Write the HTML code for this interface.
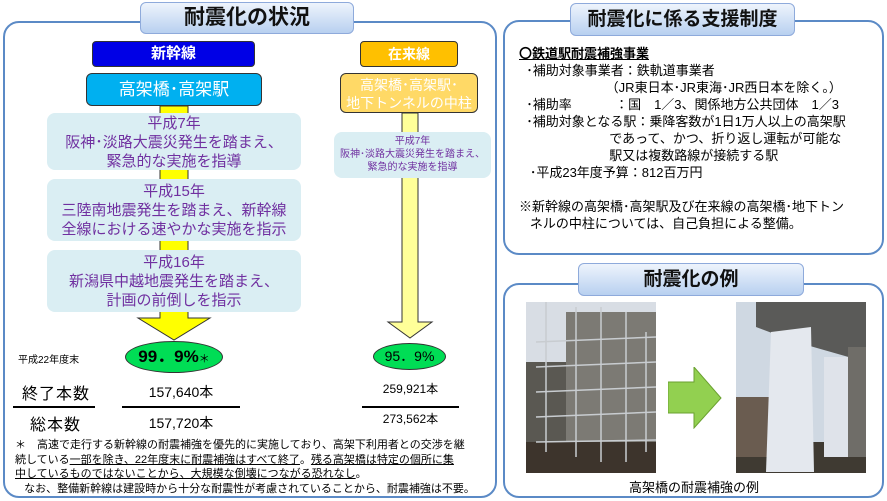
<!DOCTYPE html>
<html><head><meta charset="utf-8"><style>
*{margin:0;padding:0;box-sizing:border-box}
body{width:887px;height:501px;background:#fff;position:relative;overflow:hidden;font-family:"Liberation Sans","Noto Sans CJK JP",sans-serif;color:#000}
.a{position:absolute}
.panel{position:absolute;border:2.5px solid #5b8ac6;border-radius:16px}
.title{position:absolute;border:1px solid #8eaadb;border-radius:6px;background:linear-gradient(#eef4fc,#b8d0f0);font-weight:bold;text-align:center;color:#111}
.c{text-align:center}
.lb{background:#daeef3;border-radius:8px;color:#7030a0;text-align:center}
.ln{position:absolute;height:2px;background:#000}
</style></head><body>

<div class="panel" style="left:3px;top:21px;width:494px;height:477px"></div>
<div class="title" style="left:140px;top:2px;width:214px;height:32px;font-size:21px;line-height:30px">耐震化の状況</div>

<div class="a c" style="left:92px;top:41px;width:163px;height:26px;background:#0000e6;border:1px solid #333;border-radius:4px;color:#fff;font-weight:bold;font-size:15px;line-height:24px">新幹線</div>
<div class="a c" style="left:86px;top:73px;width:176px;height:33px;background:#00b0f0;border:1px solid #333;border-radius:6px;color:#fff;font-size:17px;line-height:31px">高架橋･高架駅</div>
<svg class="a" style="left:0;top:0" width="500" height="345">
<polygon points="160,106 188,106 188,318 210,318 174,340 138,318 160,318" fill="#ffff00" stroke="#333" stroke-width="1"/>
<polygon points="402,113 418,113 418,322 432,322 410,338 388,322 402,322" fill="#ffff99" stroke="#333" stroke-width="1"/>
</svg>
<div class="a lb" style="left:47px;top:113px;width:254px;height:57px;font-size:15px;line-height:19px;padding-top:1px">平成7年<br>阪神･淡路大震災発生を踏まえ、<br>緊急的な実施を指導</div>
<div class="a lb" style="left:47px;top:179px;width:254px;height:62px;font-size:15px;line-height:19px;padding-top:3px">平成15年<br>三陸南地震発生を踏まえ、新幹線<br>全線における速やかな実施を指示</div>
<div class="a lb" style="left:47px;top:250px;width:254px;height:62px;font-size:15px;line-height:19px;padding-top:3px">平成16年<br>新潟県中越地震発生を踏まえ、<br>計画の前倒しを指示</div>

<div class="a c" style="left:360px;top:41px;width:98px;height:26px;background:#ffc000;border:1px solid #333;border-radius:4px;color:#fff;font-weight:bold;font-size:14px;line-height:24px">在来線</div>
<div class="a c" style="left:340px;top:73px;width:138px;height:40px;background:#ffd966;border:1px solid #333;border-radius:6px;color:#fff;font-size:14px;line-height:18px;padding-top:2px">高架橋･高架駅･<br>地下トンネルの中柱</div>
<div class="a lb" style="left:334px;top:132px;width:157px;height:46px;font-size:10px;line-height:13px;padding-top:3px">平成7年<br>阪神･淡路大震災発生を踏まえ、<br>緊急的な実施を指導</div>

<div class="a c" style="left:125px;top:341px;width:98px;height:32px;background:#00dd55;border:1px solid #333;border-radius:50%;font-weight:bold;font-size:17px;line-height:30px">99．9%<span style="font-size:11px;font-weight:normal">＊</span></div>
<div class="a c" style="left:373px;top:343px;width:73px;height:27px;background:#00dd55;border:1px solid #333;border-radius:50%;font-size:14px;line-height:25px">95．9%</div>
<div class="a" style="left:18px;top:351px;font-size:10px">平成22年度末</div>
<div class="a" style="left:22px;top:380px;font-size:16px;letter-spacing:1px">終了本数</div>
<div class="a" style="left:30px;top:411px;font-size:16px;letter-spacing:1px">総本数</div>
<div class="a c" style="left:122px;top:382px;width:118px;font-size:14px">157,640本</div>
<div class="a c" style="left:122px;top:413px;width:118px;font-size:14px">157,720本</div>
<div class="a c" style="left:362px;top:380px;width:97px;font-size:12px">259,921本</div>
<div class="a c" style="left:362px;top:410px;width:97px;font-size:12px">273,562本</div>
<div class="ln" style="left:13px;top:406px;width:82px"></div>
<div class="ln" style="left:122px;top:406px;width:118px"></div>
<div class="ln" style="left:362px;top:406px;width:97px"></div>
<div class="a" style="left:15px;top:438px;font-size:11px;line-height:14.5px;white-space:nowrap">＊　高速で走行する新幹線の耐震補強を優先的に実施しており、高架下利用者との交渉を継<br>続している<u>一部を除き、22年度末に耐震補強はすべて終了</u>。<u>残る高架橋は特定の個所に集</u><br><u>中しているものではないことから、大規模な倒壊につながる恐れなし</u>。<br>&nbsp;&nbsp;&nbsp;なお、整備新幹線は建設時から十分な耐震性が考慮されていることから、耐震補強は不要。</div>

<div class="panel" style="left:503px;top:20px;width:381px;height:235px"></div>
<div class="title" style="left:570px;top:3px;width:225px;height:33px;font-size:19px;line-height:31px">耐震化に係る支援制度</div>
<div class="a" style="left:519px;top:45px;font-size:13px;line-height:17px;white-space:pre"><b><u>〇鉄道駅耐震補強事業</u></b>
  ･補助対象事業者：鉄軌道事業者
                        （JR東日本･JR東海･JR西日本を除く。）
  ･補助率            ：国　1／3、関係地方公共団体　1／3
  ･補助対象となる駅：乗降客数が1日1万人以上の高架駅
                         であって、かつ、折り返し運転が可能な
                         駅又は複数路線が接続する駅
   ･平成23年度予算：812百万円

※新幹線の高架橋･高架駅及び在来線の高架橋･地下トン
   ネルの中柱については、自己負担による整備。</div>

<div class="panel" style="left:503px;top:283px;width:381px;height:215px"></div>
<div class="title" style="left:578px;top:263px;width:226px;height:33px;font-size:19px;line-height:31px">耐震化の例</div>
<svg class="a" style="left:526px;top:302px" width="130" height="171">
<rect width="130" height="171" fill="#5a5852"/>
<rect width="130" height="60" fill="#d8dde4"/>
<rect x="40" y="10" width="90" height="130" fill="#7c7a74"/>
<rect x="0" y="140" width="130" height="31" fill="#3d342c"/>
<g stroke="#c8ccd0" stroke-width="1.5">
<line x1="20" y1="0" x2="20" y2="150"/><line x1="50" y1="5" x2="50" y2="155"/><line x1="75" y1="5" x2="75" y2="160"/><line x1="100" y1="10" x2="100" y2="160"/><line x1="120" y1="30" x2="120" y2="150"/>
<line x1="10" y1="40" x2="130" y2="35"/><line x1="10" y1="65" x2="130" y2="60"/><line x1="10" y1="90" x2="130" y2="85"/><line x1="10" y1="115" x2="130" y2="110"/><line x1="10" y1="140" x2="130" y2="138"/>
</g></svg>
<svg class="a" style="left:668px;top:367px" width="54" height="62"><polygon points="0,15 26,15 26,0 53,31 26,61 26,46 0,46" fill="#92d050" stroke="#6aa030"/></svg>
<svg class="a" style="left:736px;top:302px" width="130" height="171">
<rect width="130" height="171" fill="#cfd8e2"/>
<polygon points="20,0 130,0 130,60 60,40 20,25" fill="#5a5a58"/>
<rect x="0" y="140" width="130" height="31" fill="#3f3a32"/>
<rect x="0" y="95" width="40" height="60" fill="#6a5c50"/>
<polygon points="35,30 75,25 78,170 30,170" fill="#e4e8ee"/>
<rect x="88" y="55" width="24" height="100" fill="#dfe3ea"/>
<rect x="112" y="45" width="18" height="110" fill="#6f6d68"/>
</svg>
<div class="a c" style="left:560px;top:477px;width:268px;font-size:13px">高架橋の耐震補強の例</div>
</body></html>
